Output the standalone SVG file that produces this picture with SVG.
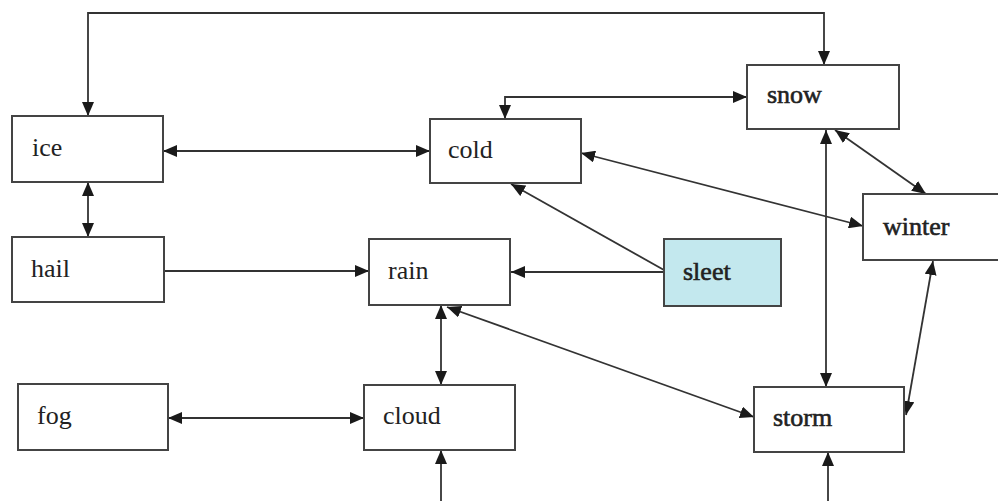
<svg xmlns="http://www.w3.org/2000/svg" width="998" height="501" viewBox="0 0 998 501">
<defs>
<marker id="a" viewBox="0 0 14 12" refX="14" refY="6" markerWidth="14" markerHeight="12" markerUnits="userSpaceOnUse" orient="auto-start-reverse">
<path d="M0,0 L14,6 L0,12 Z" fill="#1a1a1a"/>
</marker>
</defs>
<style>
.box{fill:#fff;stroke:#444;stroke-width:2}
.hl{fill:#c3e8ee}
.t{font-family:"Liberation Serif",serif;font-size:26px;fill:#222}
.b{stroke:#222;stroke-width:0.6}
.c path{fill:none;stroke:#333;stroke-width:1.8}
.c .bi{marker-start:url(#a);marker-end:url(#a)}
.c .one{marker-end:url(#a)}
</style>
<rect width="998" height="501" fill="#fff"/>
<g class="c" id="connectors">
<path class="bi" d="M88,116 V13 H824 V65"/>
<path class="bi" d="M163,151 H430"/>
<path class="bi" d="M88,182 V237"/>
<path class="bi" d="M747,97 H505 V119"/>
<path class="bi" d="M581,153 L863,226"/>
<path class="bi" d="M835,130 L926,194"/>
<path class="bi" d="M826,130 V387"/>
<path class="one" d="M664,270 L511,184"/>
<path class="one" d="M664,272 H511"/>
<path class="one" d="M164,271 H369"/>
<path class="bi" d="M441,305 V385"/>
<path class="bi" d="M447,307 L754,417"/>
<path class="bi" d="M168,418 H364"/>
<path class="bi" d="M933,261 L906,415"/>
<path class="one" d="M441,501 V450"/>
<path class="one" d="M828,501 V452"/>
</g>
<g id="ice"><rect class="box" x="12" y="116" width="151" height="66"/><text class="t" x="32" y="156">ice</text></g>
<g id="cold"><rect class="box" x="430" y="119" width="151" height="64"/><text class="t" x="448" y="158">cold</text></g>
<g id="snow"><rect class="box" x="747" y="65" width="152" height="64"/><text class="t b" x="767" y="103">snow</text></g>
<g id="winter"><rect class="box" x="863" y="194" width="140" height="66"/><text class="t b" x="883" y="235">winter</text></g>
<g id="hail"><rect class="box" x="12" y="237" width="152" height="65"/><text class="t" x="31" y="277">hail</text></g>
<g id="rain"><rect class="box" x="369" y="239" width="141" height="66"/><text class="t" x="388" y="279">rain</text></g>
<g id="sleet"><rect class="box hl" x="664" y="239" width="117" height="67"/><text class="t b" x="683" y="280">sleet</text></g>
<g id="fog"><rect class="box" x="18" y="384" width="150" height="66"/><text class="t" x="37" y="424">fog</text></g>
<g id="cloud"><rect class="box" x="364" y="385" width="151" height="65"/><text class="t" x="383" y="424">cloud</text></g>
<g id="storm"><rect class="box" x="754" y="387" width="150" height="65"/><text class="t b" x="773" y="426">storm</text></g>
</svg>
